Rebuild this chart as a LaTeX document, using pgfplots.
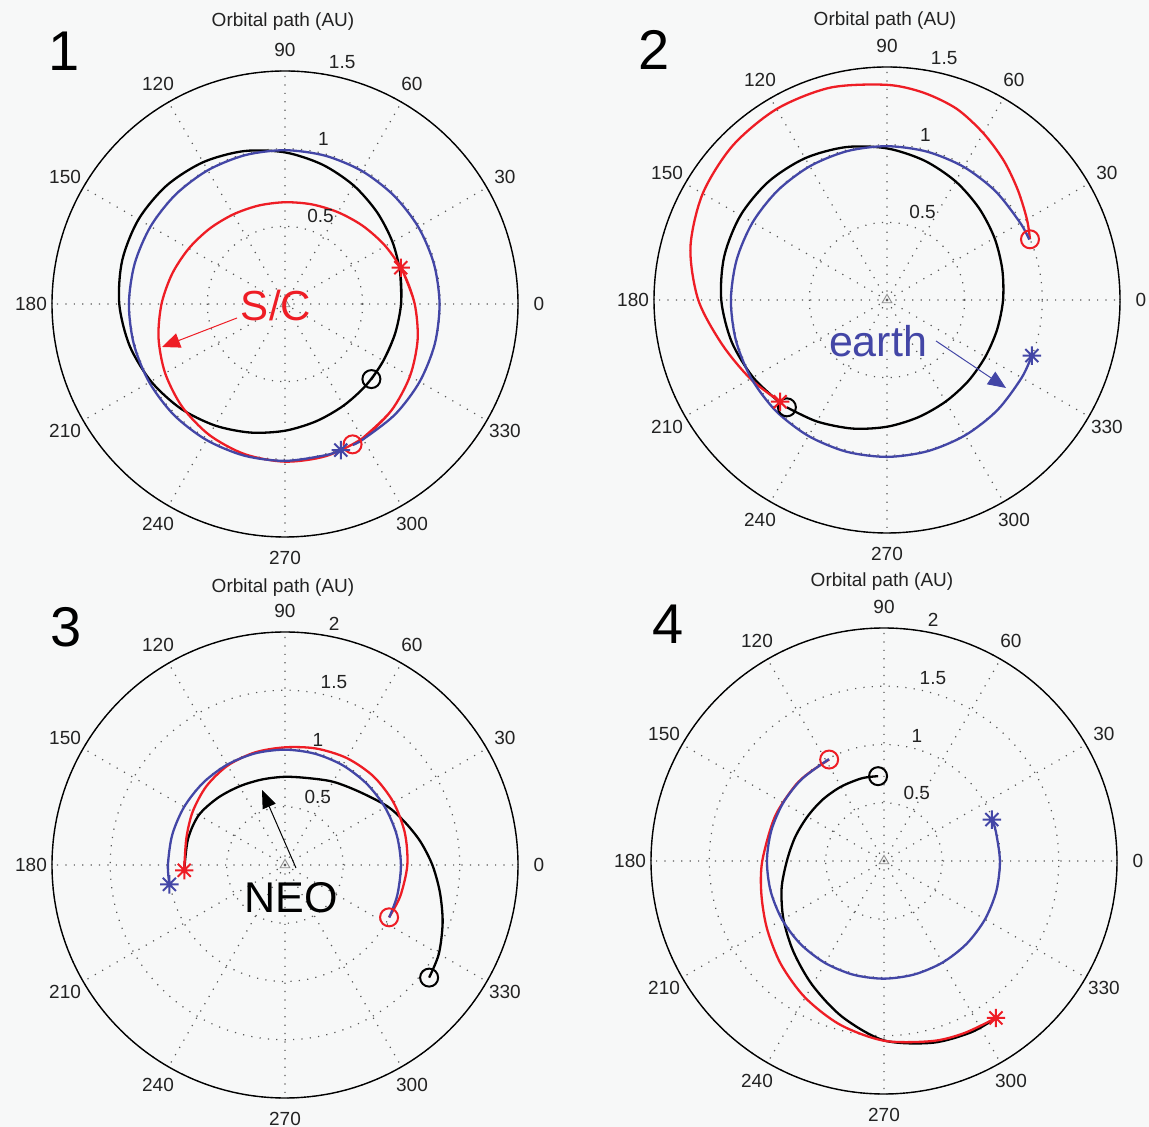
\documentclass[border=0pt]{standalone}
\usepackage{pgfplots}
\pgfplotsset{compat=1.18}
\usepgfplotslibrary{polar}
\usetikzlibrary{arrows.meta}
\usepackage{fontspec}
\setmainfont{Liberation Sans}
\definecolor{bg}{HTML}{F7F8F8}
\definecolor{mred}{HTML}{EE1D25}
\definecolor{mblue}{HTML}{4346A6}
\definecolor{txt}{HTML}{222222}
\newcommand{\lf}{\fontsize{9.5}{11}\selectfont}
\pgfdeclareplotmark{ast8}{%
  \pgfpathmoveto{\pgfqpoint{0pt}{\pgfplotmarksize}}%
  \pgfpathlineto{\pgfqpoint{0pt}{-\pgfplotmarksize}}%
  \pgfpathmoveto{\pgfqpoint{\pgfplotmarksize}{0pt}}%
  \pgfpathlineto{\pgfqpoint{-\pgfplotmarksize}{0pt}}%
  \pgfpathmoveto{\pgfqpoint{0.7071\pgfplotmarksize}{0.7071\pgfplotmarksize}}%
  \pgfpathlineto{\pgfqpoint{-0.7071\pgfplotmarksize}{-0.7071\pgfplotmarksize}}%
  \pgfpathmoveto{\pgfqpoint{0.7071\pgfplotmarksize}{-0.7071\pgfplotmarksize}}%
  \pgfpathlineto{\pgfqpoint{-0.7071\pgfplotmarksize}{0.7071\pgfplotmarksize}}%
  \pgfusepathqstroke
}
\tikzset{
  alab/.style={font=\lf, text=txt, anchor=center, inner sep=0pt},
  rlab/.style={font=\lf, text=txt, anchor=south west, inner sep=0pt, xshift=5.3pt},
}
\pgfplotsset{
  orb/.style={
    anchor=center, scale only axis, width=233pt, height=233pt,
    xmin=0, xmax=360, ymin=0,
    xtick={0,30,...,330}, xticklabels={}, yticklabels={},
    xtick style={draw=none}, ytick style={draw=none},
    grid=major,
    major grid style={black!65, line width=0.6pt, dash pattern=on 0.6pt off 3.6pt},
    separate axis lines,
    x axis line style={draw=black, line width=0.7pt},
    y axis line style={draw=none},
    clip=false,
    every axis plot/.append style={line width=1.15pt},
  },
  omark/.style={only marks, mark=o, mark size=4.5pt, line width=1pt},
  smark/.style={only marks, mark=ast8, mark size=4.6pt, line width=1pt},
  sun/.style={only marks, mark=triangle, mark size=2.8pt, black!45, line width=0.45pt, mark options={fill=none}},
}
\begin{document}
\begin{tikzpicture}
\useasboundingbox (0,0) rectangle (574.5pt,563.5pt);
\fill[bg] (0,0) rectangle (574.5pt,563.5pt);

% ---------------- Panel 1 ----------------
\begin{polaraxis}[orb, at={(142.5pt,411.5pt)}, ymax=1.5, ytick={0.5,1,1.5}]
\addplot[sun] coordinates {(0,0)};
\addplot[black, smooth] coordinates {(319,0.737)(330,0.731)(345,0.734)(360,0.747)(375,0.768)(390,0.799)(405,0.837)(420,0.882)(435,0.929)(450,0.976)(465,1.019)(480,1.054)(495,1.078)(510,1.089)(525,1.085)(540,1.067)(555,1.036)(570,0.996)(585,0.951)(600,0.903)(615,0.857)(630,0.816)(645,0.781)(660,0.755)(675,0.739)(690,0.731)(705,0.734)(720,0.747)(735,0.768)(737.4,0.772)};
\addplot[mred, smooth] coordinates {(295.7,1.003)(300,0.998)(315,0.969)(330,0.929)(345,0.884)(360,0.835)(375,0.788)(390,0.746)(405,0.710)(420,0.682)(435,0.664)(450,0.655)(465,0.656)(480,0.666)(495,0.686)(510,0.715)(525,0.752)(540,0.795)(555,0.843)(570,0.891)(585,0.936)(600,0.974)(615,1.001)(630,1.015)(645,1.014)(660,0.998)(675,0.969)(690,0.929)(705,0.884)(720,0.835)(735,0.788)(737.4,0.781)};
\addplot[mblue, smooth] coordinates {(295.7,1.007)(300,1.006)(315,1.004)(330,1.001)(345,0.998)(360,0.995)(375,0.993)(390,0.991)(405,0.989)(420,0.989)(435,0.989)(450,0.990)(465,0.992)(480,0.994)(495,0.996)(510,0.999)(525,1.002)(540,1.005)(555,1.007)(570,1.009)(585,1.011)(600,1.011)(615,1.011)(630,1.010)(645,1.008)(650.9,1.007)};
\addplot[omark, black] coordinates {(319,0.737)};
\addplot[omark, mred] coordinates {(295.7,1.003)};
\addplot[smark, mred] coordinates {(17.4,0.781)};
\addplot[smark, mblue] coordinates {(290.9,1.007)};
\pgfplotsinvokeforeach{0,30,...,330}{\node[alab] at (axis cs:#1,1.635) {#1};}
\node[rlab] at (axis cs:82,0.525) {0.5};
\node[rlab] at (axis cs:82,1.025) {1};
\node[rlab] at (axis cs:82,1.525) {1.5};
\end{polaraxis}

% ---------------- Panel 2 ----------------
\begin{polaraxis}[orb, at={(443.5pt,413.5pt)}, ymax=1.5, ytick={0.5,1,1.5}]
\addplot[sun] coordinates {(0,0)};
\addplot[black, smooth] coordinates {(227,0.945)(240,0.903)(255,0.857)(270,0.816)(285,0.781)(300,0.755)(315,0.739)(330,0.731)(345,0.734)(360,0.747)(375,0.768)(390,0.799)(405,0.837)(420,0.882)(435,0.929)(450,0.976)(465,1.019)(480,1.054)(495,1.078)(510,1.089)(525,1.085)(540,1.067)(555,1.036)(570,0.996)(583.6,0.955)};
\addplot[mred, smooth] coordinates {(23,1.0)(30,1.04)(40,1.10)(50,1.17)(60,1.24)(70,1.31)(80,1.355)(90,1.385)(105,1.415)(120,1.42)(135,1.405)(150,1.37)(165,1.31)(180,1.215)(195,1.10)(210,1.015)(223.6,0.95)};
\addplot[mblue, smooth] coordinates {(23,0.995)(30,0.991)(45,0.989)(60,0.989)(75,0.989)(90,0.990)(105,0.992)(120,0.994)(135,0.996)(150,0.999)(165,1.002)(180,1.005)(195,1.007)(210,1.009)(225,1.011)(240,1.011)(255,1.011)(270,1.010)(285,1.008)(300,1.006)(315,1.004)(330,1.001)(339,0.999)};
\addplot[omark, black] coordinates {(227,0.945)};
\addplot[omark, mred] coordinates {(23,1.0)};
\addplot[smark, mred] coordinates {(223.6,0.95)};
\addplot[smark, mblue] coordinates {(339,0.999)};
\pgfplotsinvokeforeach{0,30,...,330}{\node[alab] at (axis cs:#1,1.635) {#1};}
\node[rlab] at (axis cs:82,0.525) {0.5};
\node[rlab] at (axis cs:82,1.025) {1};
\node[rlab] at (axis cs:82,1.525) {1.5};
\end{polaraxis}

% ---------------- Panel 3 ----------------
\begin{polaraxis}[orb, at={(142.5pt,131pt)}, ymax=2, ytick={0.5,1,1.5,2}]
\addplot[sun] coordinates {(0,0)};
\addplot[black, smooth] coordinates {(-38,1.57)(-30,1.525)(-20,1.44)(-10,1.35)(0,1.265)(10,1.178)(20,1.09)(30,1.011)(45,0.893)(60,0.825)(75,0.772)(90,0.757)(105,0.76)(120,0.78)(135,0.815)(150,0.855)(165,0.862)(183,0.866)};
\addplot[mred, smooth] coordinates {(-26.7,1.0)(-15,1.025)(0,1.05)(15,1.065)(30,1.075)(45,1.075)(60,1.06)(75,1.035)(90,1.01)(105,1.0)(120,0.985)(135,0.955)(150,0.915)(165,0.877)(183,0.866)};
\addplot[mblue, smooth] coordinates {(-26.7,1.002)(-15,0.998)(0,0.995)(15,0.993)(30,0.991)(45,0.989)(60,0.989)(75,0.989)(90,0.990)(105,0.992)(120,0.994)(135,0.996)(150,0.999)(165,1.002)(180,1.005)(189.5,1.006)};
\addplot[omark, black] coordinates {(-38,1.57)};
\addplot[omark, mred] coordinates {(-26.7,1.0)};
\addplot[smark, mred] coordinates {(183,0.866)};
\addplot[smark, mblue] coordinates {(189.5,1.006)};
\pgfplotsinvokeforeach{0,30,...,330}{\node[alab] at (axis cs:#1,2.18) {#1};}
\node[rlab] at (axis cs:82,0.525) {0.5};
\node[rlab] at (axis cs:82,1.025) {1};
\node[rlab] at (axis cs:82,1.525) {1.5};
\node[rlab] at (axis cs:82,2.025) {2};
\end{polaraxis}

% ---------------- Panel 4 ----------------
\begin{polaraxis}[orb, at={(442pt,133pt)}, ymax=2, ytick={0.5,1,1.5,2}]
\addplot[sun] coordinates {(0,0)};
\addplot[black, smooth] coordinates {(94,0.73)(105,0.735)(120,0.737)(135,0.745)(150,0.76)(165,0.79)(180,0.834)(195,0.91)(210,0.997)(225,1.10)(240,1.23)(255,1.385)(270,1.54)(285,1.615)(297,1.65)(305.5,1.655)};
\addplot[mred, smooth] coordinates {(118.4,0.99)(130,0.993)(140,1.0)(158,1.011)(180,1.045)(195,1.09)(210,1.16)(225,1.252)(240,1.354)(255,1.455)(270,1.543)(285,1.60)(295,1.63)(305.5,1.655)};
\addplot[mblue, smooth] coordinates {(118.4,0.994)(135,0.996)(150,0.999)(165,1.002)(180,1.005)(195,1.007)(210,1.009)(225,1.011)(240,1.011)(255,1.011)(270,1.010)(285,1.008)(300,1.006)(315,1.004)(330,1.001)(345,0.998)(360,0.995)(375,0.993)(381,0.992)};
\addplot[omark, black] coordinates {(94,0.73)};
\addplot[omark, mred] coordinates {(118.4,0.99)};
\addplot[smark, mred] coordinates {(305.5,1.655)};
\addplot[smark, mblue] coordinates {(21,0.992)};
\pgfplotsinvokeforeach{0,30,...,330}{\node[alab] at (axis cs:#1,2.18) {#1};}
\node[rlab] at (axis cs:82,0.525) {0.5};
\node[rlab] at (axis cs:82,1.025) {1};
\node[rlab] at (axis cs:82,1.525) {1.5};
\node[rlab] at (axis cs:82,2.025) {2};
\end{polaraxis}

% ---------------- annotations ----------------
\node[font=\lf, text=txt] at (141.5pt,552.5pt) {Orbital path (AU)};
\node[font=\lf, text=txt] at (442.5pt,553pt) {Orbital path (AU)};
\node[font=\lf, text=txt] at (141.5pt,269.5pt) {Orbital path (AU)};
\node[font=\lf, text=txt] at (441pt,272.5pt) {Orbital path (AU)};

\node[font=\fontsize{28}{30}\selectfont, inner sep=0pt] at (32pt,538pt) {1};
\node[font=\fontsize{28}{30}\selectfont, inner sep=0pt] at (327pt,538.5pt) {2};
\node[font=\fontsize{28}{30}\selectfont, inner sep=0pt] at (33pt,250pt) {3};
\node[font=\fontsize{28}{30}\selectfont, inner sep=0pt] at (334pt,251.5pt) {4};

\node[font=\fontsize{21}{23}\selectfont, text=mred, inner sep=0pt] at (138pt,410.5pt) {S/C};
\draw[mred, line width=0.5pt, -{Triangle[length=9pt,width=7.5pt]}] (118.5pt,404.5pt) -- (81pt,390pt);

\node[font=\fontsize{21.5}{23}\selectfont, text=mblue, inner sep=0pt] at (439pt,392.7pt) {earth};
\draw[mblue, line width=0.5pt, -{Triangle[length=9pt,width=7.5pt]}] (468pt,393pt) -- (503pt,369.5pt);

\node[font=\fontsize{21.5}{23}\selectfont, inner sep=0pt] at (145.5pt,114.5pt) {NEO};
\draw[black, line width=0.5pt, -{Triangle[length=9pt,width=7pt]}] (148pt,129.5pt) -- (131pt,168.5pt);
\end{tikzpicture}
\end{document}
